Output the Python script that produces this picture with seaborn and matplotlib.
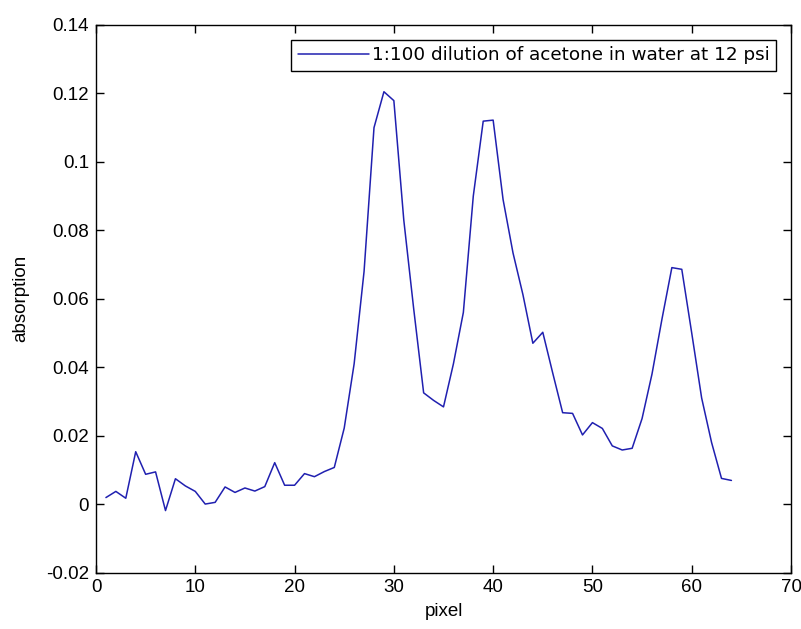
import matplotlib
matplotlib.use("Agg")
import matplotlib.pyplot as plt
import seaborn as sns
import pandas as pd

pixel = list(range(1, 65))
absorption = [
    0.0019, 0.0037, 0.0017, 0.0153, 0.0087, 0.0094, -0.0019, 0.0074, 0.0053, 0.0037,
    0.0000, 0.0005, 0.0050, 0.0034, 0.0047, 0.0038, 0.0051, 0.0121, 0.0055, 0.0055,
    0.0089, 0.0080, 0.0095, 0.0107, 0.0222, 0.0410, 0.0680, 0.1100, 0.1205, 0.1179,
    0.0830, 0.0570, 0.0325, 0.0303, 0.0284, 0.0410, 0.0560, 0.0900, 0.1119, 0.1122,
    0.0890, 0.0734, 0.0612, 0.0470, 0.0502, 0.0383, 0.0267, 0.0265, 0.0202, 0.0238,
    0.0221, 0.0170, 0.0158, 0.0163, 0.0250, 0.0380, 0.0540, 0.0691, 0.0686, 0.0500,
    0.0310, 0.0180, 0.0075, 0.0069,
]
series_label = "1:100 dilution of acetone in water at 12 psi"
x_ticks = [0, 10, 20, 30, 40, 50, 60, 70]
y_ticks = [-0.02, 0, 0.02, 0.04, 0.06, 0.08, 0.1, 0.12, 0.14]
y_tick_labels = ["-0.02", "0", "0.02", "0.04", "0.06", "0.08", "0.1", "0.12", "0.14"]

sns.set_theme(style="white")
plt.rcParams["font.family"] = ["Liberation Sans", "DejaVu Sans"]
plt.rcParams["text.color"] = "black"
plt.rcParams["axes.labelcolor"] = "black"

df = pd.DataFrame({"pixel": pixel, "absorption": absorption, "series": series_label})

fig = plt.figure(figsize=(8.01, 6.29), dpi=100)
ax = fig.add_axes([96 / 801, 1 - 572.5 / 629, (791 - 96) / 801, (572.5 - 25) / 629])

sns.lineplot(data=df, x="pixel", y="absorption", hue="series",
             palette=["#2020b0"], linewidth=1.1, ax=ax)

ax.set_xlim(0, 70)
ax.set_ylim(-0.02, 0.14)
ax.set_xticks(x_ticks)
ax.set_xticklabels([str(t) for t in x_ticks])
ax.set_yticks(y_ticks)
ax.set_yticklabels(y_tick_labels)
ax.tick_params(axis="both", direction="in", length=6, width=1, colors="black",
               labelsize=13.5, top=True, right=True, bottom=True, left=True, pad=5)
for s in ax.spines.values():
    s.set_visible(True)
    s.set_color("black")
    s.set_linewidth(1.0)
ax.set_facecolor("white")
fig.patch.set_facecolor("white")

ax.set_xlabel("pixel", fontsize=13.5, color="black", labelpad=5)
ax.set_ylabel("absorption", fontsize=13.5, color="black", labelpad=12)

leg = ax.legend(loc="upper right", frameon=True, fancybox=False,
                prop={"family": ["DejaVu Sans"], "size": 13.2},
                handlelength=3.9, handletextpad=0.15, borderaxespad=0.8,
                borderpad=0.36, framealpha=1)
leg.get_frame().set_edgecolor("black")
leg.get_frame().set_linewidth(1.0)
for t in leg.get_texts():
    t.set_color("black")

fig.savefig("out.png", dpi=100)
